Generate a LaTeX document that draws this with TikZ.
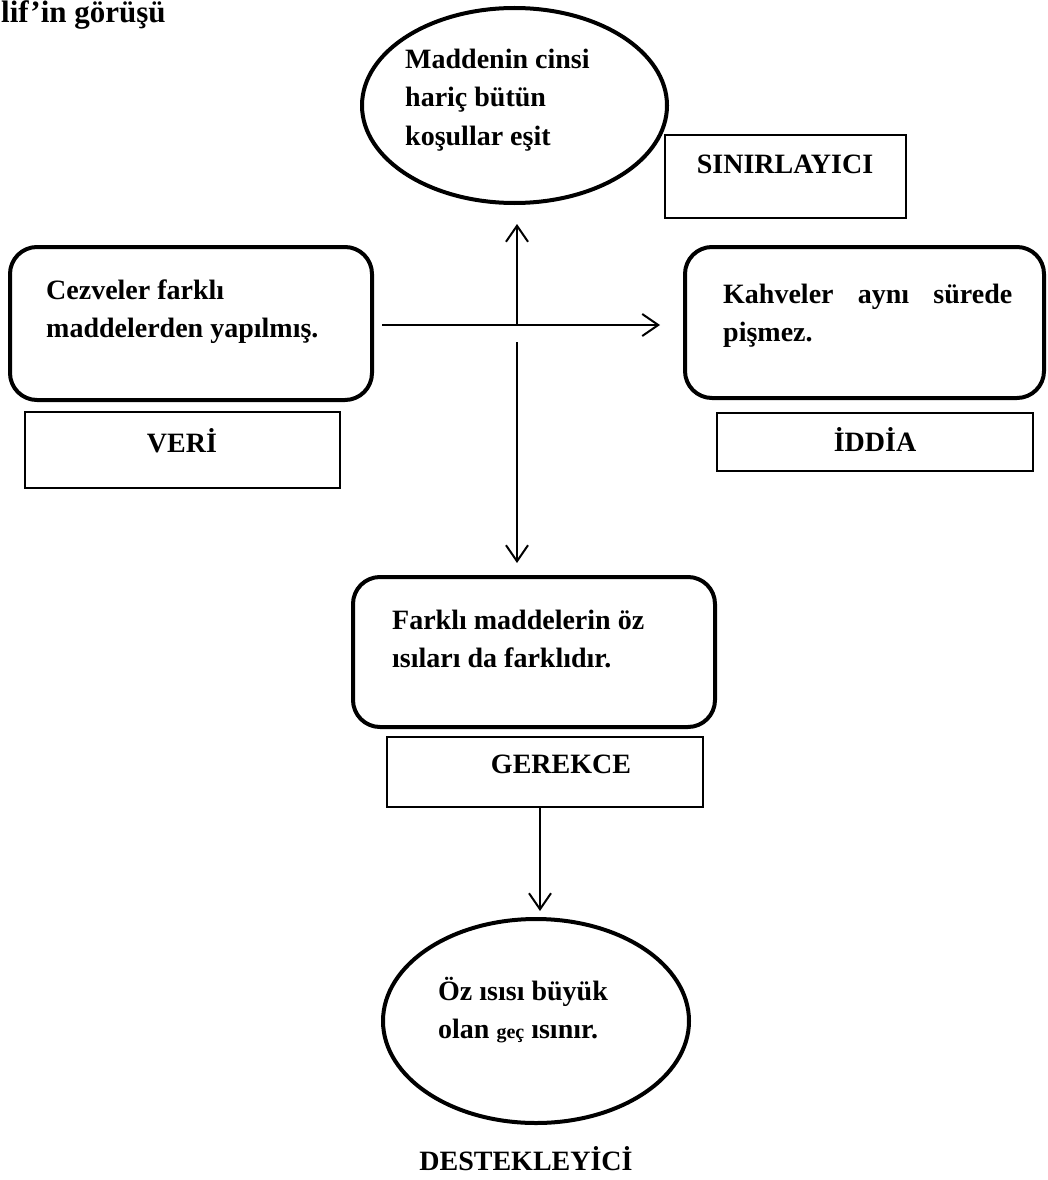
\documentclass[tikz,border=0pt]{standalone}
\usepackage{fontspec}
\setmainfont{Liberation Serif}
\usetikzlibrary{arrows.meta,shapes.geometric}
\tikzset{
  rbox/.style={draw, line width=4pt, rounded corners=27pt, inner sep=0pt},
  lbox/.style={draw, line width=1.8pt, inner sep=0pt},
  oval/.style={draw, ellipse, line width=4pt, inner sep=0pt},
  txt/.style={font=\fontsize{28}{38.5}\selectfont\bfseries, inner sep=0pt, align=left, anchor=north west},
  lab/.style={font=\fontsize{28}{34}\selectfont\bfseries, inner sep=0pt, anchor=base},
  arr/.style={line width=2pt, -{Straight Barb[length=16pt,width=22pt]}}
}
\begin{document}
\begin{tikzpicture}[x=1pt,y=-1pt]
\useasboundingbox (0,0) rectangle (1047,1180);
% title
\node[font=\fontsize{31}{34}\selectfont\bfseries, inner sep=0pt, anchor=base west] (title) at (1,23) {lif’in görüşü};
% top ellipse (sınırlayıcı)
\node[oval, minimum width=305pt, minimum height=195pt] (tope) at (514.5,105.5) {};
\node[txt] (topt) at (405,41) {\strut Maddenin cinsi\\\strut hariç bütün\\\strut koşullar eşit};
% sınırlayıcı label
\node[lbox, minimum width=241pt, minimum height=83pt] (sinir) at (785.5,176.5) {};
\node[lab] (sinirt) at (785,173) {SINIRLAYICI};
% veri
\node[rbox, minimum width=362pt, minimum height=153pt] (vbox) at (191,323.5) {};
\node[txt] (vtxt) at (46,272) {\strut Cezveler farklı\\\strut maddelerden yapılmış.};
\node[lbox, minimum width=315pt, minimum height=76pt] (veri) at (182.5,450) {};
\node[lab] (verit) at (182,452) {VERİ};
% iddia
\node[rbox, minimum width=359pt, minimum height=151pt] (ibox) at (864.5,322.5) {};
\node[txt] (itxt) at (723,276) {\strut\makebox[289pt][s]{Kahveler aynı sürede}\\\strut pişmez.};
\node[lbox, minimum width=316pt, minimum height=58pt] (iddia) at (875,442) {};
\node[lab] (iddiat) at (875,451) {İDDİA};
% gerekçe
\node[rbox, minimum width=362pt, minimum height=150pt] (mbox) at (534,652) {};
\node[txt] (mtxt) at (392,602) {\strut Farklı maddelerin öz\\\strut ısıları da farklıdır.};
\node[lbox, minimum width=316pt, minimum height=70pt] (ger) at (545,772) {};
\node[lab] (gert) at (561,773) {GEREKCE};
% destekleyici
\node[oval, minimum width=306pt, minimum height=204pt] (bote) at (536,1021) {};
\node[txt] (btxt) at (438,973) {\strut Öz ısısı büyük\\\strut olan {\fontsize{20}{20}\selectfont geç} ısınır.};
\node[lab] (destt) at (526,1170) {DESTEKLEYİCİ};
% connectors
\coordinate (cross) at (517,325);
\draw[arr] ([xshift=8pt]vbox.east |- cross) -- ([xshift=-23pt]ibox.west |- cross);
\draw[arr] (cross) -- ([yshift=-19pt]tope.south -| cross);
\draw[arr] ([yshift=-17pt]cross) -- ([yshift=12pt]mbox.north -| cross);
\coordinate (gbot) at (540,807);
\draw[arr] (gbot) -- ([yshift=6pt]bote.north -| gbot);
\end{tikzpicture}
\end{document}
